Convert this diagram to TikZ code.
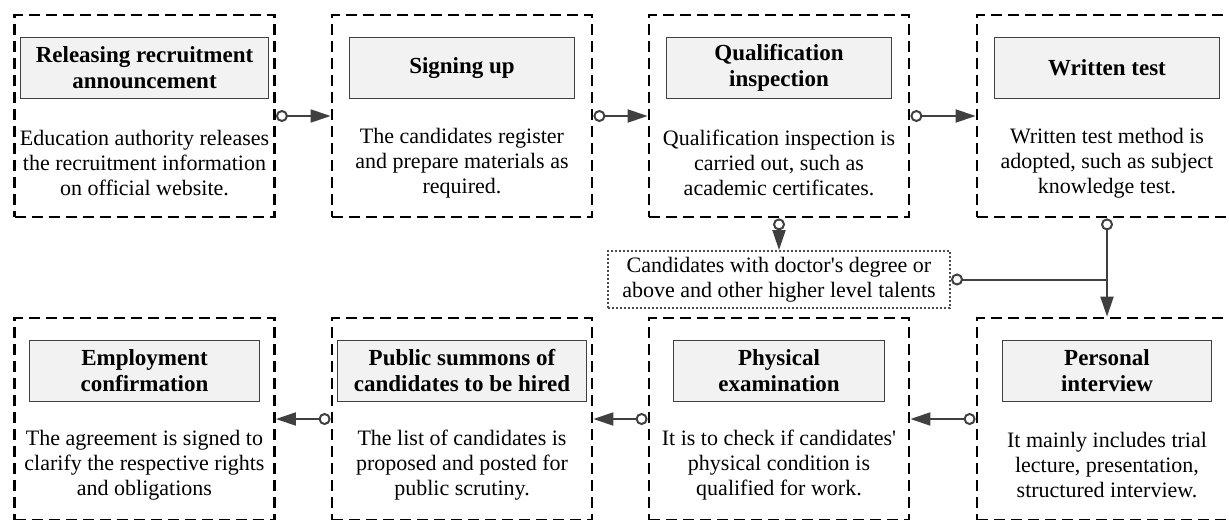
\documentclass[tikz,border=0pt]{standalone}
\usepackage{fontspec}
\setmainfont{Liberation Serif}
\usetikzlibrary{arrows.meta,positioning,calc}

\tikzset{
	stage/.style={draw=black, line width=1.4pt, dash pattern=on 5.5pt off 3pt,
		minimum width=130pt, minimum height=101pt, inner sep=0pt},
	head/.style={draw=black!75, line width=0.6pt, fill=black!5, minimum height=30.5pt,
		inner sep=0pt, align=center, font=\fontsize{11.5}{13}\selectfont\bfseries},
	body/.style={inner sep=0pt, align=center, font=\fontsize{11}{12.5}\selectfont},
	note/.style={draw=black!70, line width=1pt, dash pattern=on 1pt off 1pt,
		minimum width=171pt, minimum height=28.5pt, inner sep=0pt, align=center,
		font=\fontsize{11}{12.5}\selectfont},
	flow/.style={draw=black!75, line width=1pt,
		{Circle[length=6pt,width=6pt,fill=white]}-{Triangle[length=10pt,width=6.5pt]}},
	joinline/.style={draw=black!75, line width=1pt, {Circle[length=6pt,width=6pt,fill=white]}-},
}

\begin{document}
\begin{tikzpicture}[x=0.5pt, y=-0.5pt]
	\useasboundingbox (0,0) rectangle (1229,519);

	% upper row
	\node[stage] (release) at (144.5,116) {};
	\node[stage] (signup) at (462,116) {};
	\node[stage] (qualify) at (779,116) {};
	\node[stage] (written) at (1107,116) {};
	% lower row, runs right to left
	\node[stage] (employ) at (144.5,419) {};
	\node[stage] (publicity) at (462,419) {};
	\node[stage] (physical) at (779,419) {};
	\node[stage] (interview) at (1107,419) {};

	\node[head, minimum width=124pt, below=11.5pt of release.north] (releaseH) {Releasing recruitment\\announcement};
	\node[head, minimum width=112.5pt, below=11.5pt of signup.north] (signupH) {Signing up};
	\node[head, minimum width=112.5pt, below=11.5pt of qualify.north] (qualifyH) {Qualification\\inspection};
	\node[head, minimum width=112.5pt, below=11.5pt of written.north] (writtenH) {Written test};
	\node[head, minimum width=115pt, below=11.5pt of employ.north] (employH) {Employment\\confirmation};
	\node[head, minimum width=124.5pt, below=11.5pt of publicity.north] (publicityH) {Public summons of\\candidates to be hired};
	\node[head, minimum width=105.5pt, below=11.5pt of physical.north] (physicalH) {Physical\\examination};
	\node[head, minimum width=104.5pt, below=11.5pt of interview.north] (interviewH) {Personal\\interview};

	\node[body] (releaseT) at ($(release.center)+(0,-23.5pt)$) {Education authority releases\\the recruitment information\\on official website.};
	\node[body] (signupT) at ($(signup.center)+(0,-23.5pt)$) {The candidates register\\and prepare materials as\\required.};
	\node[body] (qualifyT) at ($(qualify.center)+(0,-23.5pt)$) {Qualification inspection is\\carried out, such as\\academic certificates.};
	\node[body] (writtenT) at ($(written.center)+(0,-23.5pt)$) {Written test method is\\adopted, such as subject\\knowledge test.};
	\node[body] (employT) at ($(employ.center)+(0,-23pt)$) {The agreement is signed to\\clarify the respective rights\\and obligations};
	\node[body] (publicityT) at ($(publicity.center)+(0,-23pt)$) {The list of candidates is\\proposed and posted for\\public scrutiny.};
	\node[body] (physicalT) at ($(physical.center)+(0,-23pt)$) {It is to check if candidates\textquotesingle\\physical condition is\\qualified for work.};
	\node[body] (interviewT) at ($(interview.center)+(0,-23pt)$) {It mainly includes trial\\lecture, presentation,\\structured interview.};

	% shortcut for high level talents
	\node[note] (talent) at (779,279.5) {Candidates with doctor\textquotesingle s degree or\\above and other higher level talents};

	\draw[flow] (release.east) -- (signup.west);
	\draw[flow] (signup.east) -- (qualify.west);
	\draw[flow] (qualify.east) -- (written.west);
	\draw[flow] (written.south) -- (interview.north);
	\draw[flow] (interview.west) -- (physical.east);
	\draw[flow] (physical.west) -- (publicity.east);
	\draw[flow] (publicity.west) -- (employ.east);
	\draw[flow] (qualify.south) -- (talent.north);
	\draw[joinline] (talent.east) -- (talent.east -| written.south);
\end{tikzpicture}
\end{document}
